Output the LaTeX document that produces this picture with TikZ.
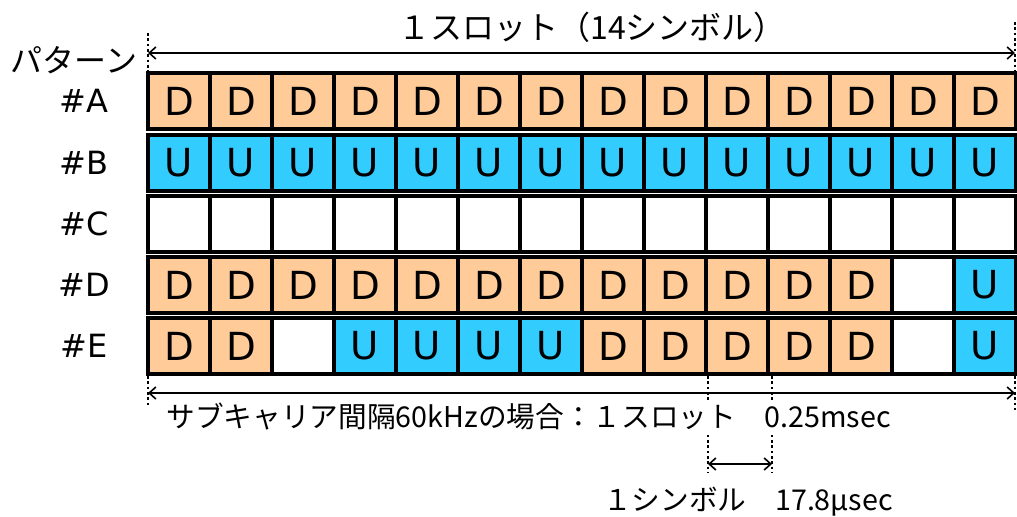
\documentclass[tikz,border=0pt]{standalone}
\usepackage{fontspec}
\setmainfont{DejaVu Sans}
\newfontfamily\jpfont{Noto Sans CJK JP}
\usetikzlibrary{arrows.meta,positioning,calc}
\definecolor{dlorange}{RGB}{255,204,153}
\definecolor{ulblue}{RGB}{51,204,255}
\tikzset{
  cell/.style={draw=black,line width=3pt,minimum width=46.5pt,minimum height=42pt,inner sep=0pt,font=\fontsize{29}{29}\selectfont},
  cellD/.style={cell,fill=dlorange},
  cellU/.style={cell,fill=ulblue},
  cellX/.style={cell,fill=white},
  rowlabel/.style={font=\fontsize{24}{24}\selectfont},
  jptext/.style={font=\jpfont\fontsize{21.5}{21.5}\selectfont,inner sep=1pt},
  jptitle/.style={font=\jpfont\fontsize{24}{24}\selectfont,inner sep=1pt},
  guide/.style={line width=1.6pt,dash pattern=on 2pt off 2pt},
  dimline/.style={{Straight Barb[length=5pt,width=9pt]}-{Straight Barb[length=5pt,width=9pt]},line width=1.2pt}
}
\def\emptycell{X}
\begin{document}
\begin{tikzpicture}[x=0.75pt,y=-0.75pt]
  \useasboundingbox (0,0) rectangle (1017,517);
  % Slot patterns, one row per pattern
  \foreach \row/\y/\pat in {
      A/101/{D,D,D,D,D,D,D,D,D,D,D,D,D,D},
      B/163/{U,U,U,U,U,U,U,U,U,U,U,U,U,U},
      C/224/{X,X,X,X,X,X,X,X,X,X,X,X,X,X},
      D/285/{D,D,D,D,D,D,D,D,D,D,D,D,X,U},
      E/346/{D,D,X,U,U,U,U,D,D,D,D,D,X,U}} {
    \node[rowlabel] (lab\row) at (84,\y) {\#\row};
    \foreach \t [count=\i] in \pat
      \node[cell\t] (\row\i) at (117+62*\i,\y) {\ifx\t\emptycell\else\t\fi};
  }
  \node[jptitle] (pattern) at (74,60) {パターン};
  % Slot length above
  \coordinate (topLu) at (148,33);
  \coordinate (topLd) at (148,72);
  \coordinate (topRu) at (1015,22);
  \coordinate (topRd) at (1015,72);
  \coordinate (topL) at (148,53);
  \coordinate (topR) at (1015,53);
  \draw[guide] (topLu) -- (topLd);
  \draw[guide] (topRu) -- (topRd);
  \draw[dimline] (topL) -- (topR);
  \node[jptitle] (slottitle) at (592,27) {１スロット（14シンボル）};
  % Slot length below
  \coordinate (botLu) at (148,376);
  \coordinate (botLd) at (148,407);
  \coordinate (botRu) at (1015,376);
  \coordinate (botRd) at (1015,410);
  \coordinate (botL) at (148,393);
  \coordinate (botR) at (1015,393);
  \draw[guide] (botLu) -- (botLd);
  \draw[guide] (botRu) -- (botRd);
  \draw[dimline] (botL) -- (botR);
  % One symbol
  \coordinate (symLu) at (708,376);
  \coordinate (symLd) at (708,473);
  \coordinate (symRu) at (772,376);
  \coordinate (symRd) at (772,473);
  \coordinate (symL) at (708,464);
  \coordinate (symR) at (772,464);
  \draw[guide] (symLu) -- (symLd);
  \draw[guide] (symRu) -- (symRd);
  \draw[dimline] (symL) -- (symR);
  \node[jptext,anchor=west,fill=white] (slotnote) at (165,417) {サブキャリア間隔60kHzの場合：１スロット　0.25msec};
  \node[jptext] (symnote) at (748,502) {１シンボル　17.8µsec};
\end{tikzpicture}
\end{document}
